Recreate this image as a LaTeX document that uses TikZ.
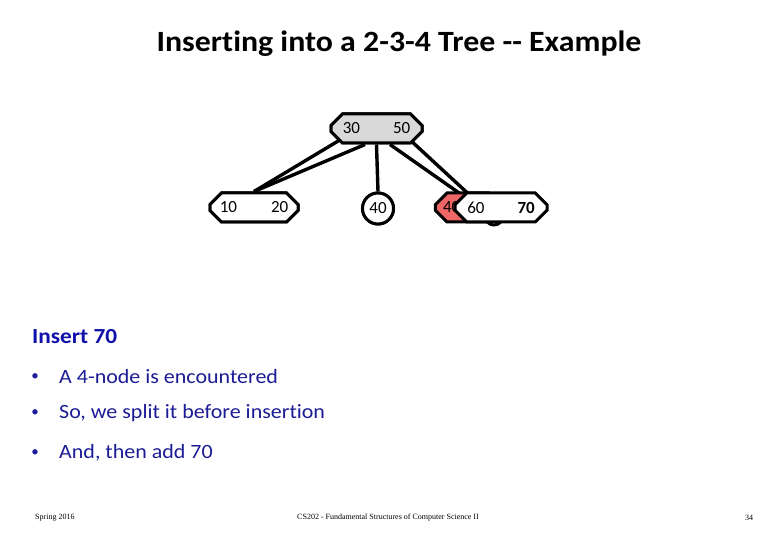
\documentclass[tikz,border=0pt]{standalone}
\usepackage{graphicx}
\usepackage{fontspec}
\setmainfont{Carlito}[Ligatures={TeX,NoCommon}]
\newfontfamily\footfont{Liberation Serif}
\usetikzlibrary{shapes.misc}
\definecolor{nodegray}{RGB}{217,217,217}
\definecolor{splitred}{RGB}{238,102,102}
\definecolor{bodyblue}{RGB}{28,28,150}
\definecolor{headblue}{RGB}{16,16,170}
\newcommand{\widetxt}[1]{\scalebox{1.083}[1]{#1}}
\tikzset{
  treebox/.style={chamfered rectangle, chamfered rectangle xsep=6pt, chamfered rectangle ysep=6pt, draw=black, line width=3pt, minimum height=29pt, inner xsep=2pt, inner ysep=0pt, font=\fontsize{17}{19}\selectfont},
  treecirc/.style={circle, draw=black, line width=3pt, fill=white, minimum size=31pt, inner sep=0pt, font=\fontsize{17}{19}\selectfont},
  treeedge/.style={line width=3.4pt, black},
  bullettext/.style={anchor=west, inner sep=0pt, text=bodyblue, font=\fontsize{20.3}{23}\selectfont},
  bulletdot/.style={inner sep=0pt, text=bodyblue, font=\fontsize{15}{17}\selectfont},
  footer/.style={font=\footfont\fontsize{8}{9}\selectfont, text=black},
}
\begin{document}
\begin{tikzpicture}[x=1pt,y=-1pt]
\useasboundingbox[fill=white] (0,0) rectangle (780,540);
% title
\node[font=\bfseries\fontsize{29.4}{34}\selectfont] (title) at (399,44) {\widetxt{Inserting into a 2-3-4 Tree {-}{-} Example}};
% nodes (first pass gives anchors)
\node[treebox, fill=nodegray, minimum width=91pt] (root) at (376.5,128.5) {30\hspace{33pt}50};
\node[treebox, fill=white, minimum width=88pt] (left) at (254,207.5) {10\hspace{34pt}20};
\node[treecirc] (mid) at (378,208.5) {40};
% hidden original child
\node[circle, draw=black, line width=3pt, fill=white, minimum size=18pt, inner sep=0pt] (hid) at (494,216) {};
% edges
\draw[treeedge] ([xshift=7pt]root.south west) -- (left.north);
\draw[treeedge] ([xshift=-11.5pt]root.south) -- (left.north);
\draw[treeedge] (root.south) -- (mid.north);
\draw[treeedge] ([xshift=13.5pt]root.south) -- ([yshift=-12pt]hid.north);
\draw[treeedge] ([xshift=-9pt]root.south east) -- ([yshift=-12pt]hid.north);
% redraw nodes on top of edges
\node[treebox, fill=nodegray, minimum width=91pt] (root2) at (376.5,128.5) {30\hspace{33pt}50};
\node[treebox, fill=white, minimum width=88pt] (left2) at (254,207.5) {10\hspace{34pt}20};
\node[treecirc] (mid2) at (378,208.5) {40};
\node[treebox, fill=splitred, minimum width=60pt, text width=50pt, align=left] (red) at (468,207.5) {40};
\node[treebox, fill=white, minimum width=92pt] (right) at (501,207.5) {60\hspace{33pt}\textbf{70}};
% text
\node[anchor=west, inner sep=0pt, text=headblue, font=\bfseries\fontsize{21.5}{25}\selectfont] (ins) at (32,337) {\widetxt{Insert 70}};
\node[bullettext] (b1) at (59,377) {\widetxt{A 4-node is encountered}};
\node[bullettext] (b2) at (59,413) {\widetxt{So, we split it before insertion}};
\node[bullettext] (b3) at (59,453) {\widetxt{And, then add 70}};
\node[bulletdot] (d1) at (35,377) {•};
\node[bulletdot] (d2) at (35,413) {•};
\node[bulletdot] (d3) at (35,453) {•};
% footer
\node[footer, anchor=west, inner sep=0pt] (f1) at (35,518) {Spring 2016};
\node[footer] (f2) at (388,518) {CS202 - Fundamental Structures of Computer Science II};
\node[footer] (f3) at (749,518) {34};
\end{tikzpicture}
\end{document}
